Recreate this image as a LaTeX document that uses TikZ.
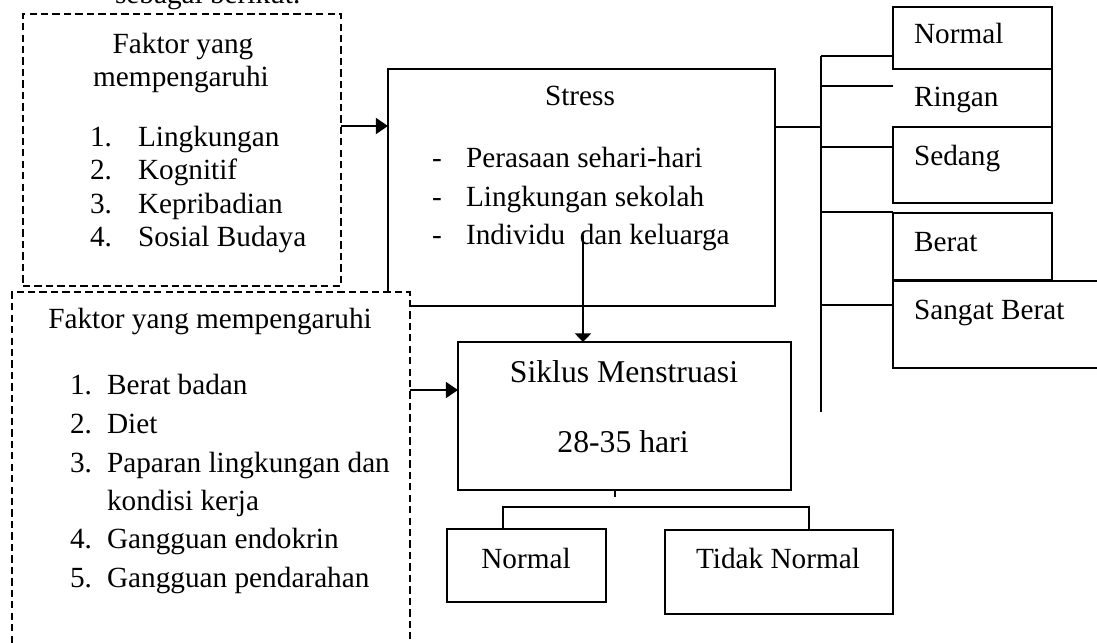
\documentclass[tikz,border=0pt]{standalone}
\usepackage{fontspec}
\setmainfont{Liberation Serif}
\usetikzlibrary{arrows.meta}
\tikzset{
  box/.style={draw, line width=0.75pt, fill=white, inner sep=0pt, outer sep=0pt},
  dbox/.style={draw, line width=0.6pt, dash pattern=on 3pt off 1.7pt, fill=white, inner sep=0pt, outer sep=0pt},
  hidbox/.style={inner sep=0pt, outer sep=0pt},
  txt/.style={inner sep=0pt, outer sep=0pt, font=\fontsize{12pt}{13.8pt}\selectfont},
  bigtxt/.style={inner sep=0pt, outer sep=0pt, font=\fontsize{13pt}{15pt}\selectfont},
  arr/.style={line width=1pt, -{Triangle[length=5pt,width=6.5pt]}},
  varr/.style={line width=1pt, -{Triangle[length=3.5pt,width=6.5pt]}},
  conn/.style={line width=0.75pt},
}
\begin{document}
\begin{tikzpicture}[x=0.41pt,y=-0.41pt]
\useasboundingbox (0,0) rectangle (1097,642);
\clip (0,0) rectangle (1097,642);

% cut-off introduction line
\node[txt, anchor=base west] (intro) at (115,3) {sebagai berikut.};

% boxes
\node[dbox, minimum width=318*0.41pt, minimum height=272*0.41pt] (fa) at (182,150) {};
\node[box, minimum width=387*0.41pt, minimum height=237*0.41pt] (stress) at (581.5,187.5) {};
\node[dbox, minimum width=398*0.41pt, minimum height=408*0.41pt] (fb) at (211,496) {};
\node[box, minimum width=333*0.41pt, minimum height=148*0.41pt] (siklus) at (624.5,416) {};
\node[box, minimum width=159*0.41pt, minimum height=73*0.41pt] (cn) at (526.5,565.5) {};
\node[box, minimum width=228*0.41pt, minimum height=84*0.41pt] (ctn) at (779,572) {};

\node[box, minimum width=159*0.41pt, minimum height=62*0.41pt] (rn) at (972.5,38) {};
\node[hidbox, minimum width=159*0.41pt, minimum height=58*0.41pt] (rr) at (972.5,98) {};
\draw[conn] (rr.north west) -- (rr.north east) -- (rr.south east) -- (rr.south west);
\node[box, minimum width=159*0.41pt, minimum height=76*0.41pt] (rs) at (972.5,165) {};
\node[box, minimum width=159*0.41pt, minimum height=67*0.41pt] (rb) at (972.5,246.5) {};
\node[box, minimum width=257*0.41pt, minimum height=87*0.41pt] (rsb) at (1021.5,324.5) {};

% texts of box A
\node[txt, anchor=base] (fa1) at (183,53) {Faktor yang};
\node[txt, anchor=base] (fa2) at (181,86) {mempengaruhi};
\node[txt, anchor=base west] (fan1) at (90,146) {1.};
\node[txt, anchor=base west] (fat1) at (138,146) {Lingkungan};
\node[txt, anchor=base west] (fan2) at (90,179.5) {2.};
\node[txt, anchor=base west] (fat2) at (138,179.5) {Kognitif};
\node[txt, anchor=base west] (fan3) at (90,213) {3.};
\node[txt, anchor=base west] (fat3) at (138,213) {Kepribadian};
\node[txt, anchor=base west] (fan4) at (90,246.5) {4.};
\node[txt, anchor=base west] (fat4) at (138,246.5) {Sosial Budaya};

% texts of stress
\node[txt, anchor=base] (st0) at (580,105) {Stress};
\node[txt, anchor=base west] (sd1) at (432,167) {-};
\node[txt, anchor=base west] (st1) at (466,167) {Perasaan sehari-hari};
\node[txt, anchor=base west] (sd2) at (432,206) {-};
\node[txt, anchor=base west] (st2) at (466,206) {Lingkungan sekolah};
\node[txt, anchor=base west] (sd3) at (432,244) {-};
\node[txt, anchor=base west] (st3) at (466,244) {Individu\ \ dan keluarga};

% texts of box B
\node[txt, anchor=base] (fb0) at (210,328) {Faktor yang mempengaruhi};
\node[txt, anchor=base west] (fbn1) at (70,394) {1.};
\node[txt, anchor=base west] (fbt1) at (107,394) {Berat badan};
\node[txt, anchor=base west] (fbn2) at (70,433) {2.};
\node[txt, anchor=base west] (fbt2) at (107,433) {Diet};
\node[txt, anchor=base west] (fbn3) at (70,472) {3.};
\node[txt, anchor=base west] (fbt3) at (107,472) {Paparan lingkungan dan};
\node[txt, anchor=base west] (fbt3b) at (107,510) {kondisi kerja};
\node[txt, anchor=base west] (fbn4) at (70,548) {4.};
\node[txt, anchor=base west] (fbt4) at (107,548) {Gangguan endokrin};
\node[txt, anchor=base west] (fbn5) at (70,587) {5.};
\node[txt, anchor=base west] (fbt5) at (107,587) {Gangguan pendarahan};

% texts of siklus and outcomes
\node[bigtxt, anchor=base] (sk1) at (624,382) {Siklus Menstruasi};
\node[bigtxt, anchor=base] (sk2) at (623,452) {28-35 hari};
\node[txt, anchor=base] (cnt) at (526,568) {Normal};
\node[txt, anchor=base] (ctnt) at (778,568) {Tidak Normal};

% texts of stress levels
\node[txt, anchor=base west] (rnt) at (914,43) {Normal};
\node[txt, anchor=base west] (rrt) at (914,106) {Ringan};
\node[txt, anchor=base west] (rst) at (914,165) {Sedang};
\node[txt, anchor=base west] (rbt) at (914,251) {Berat};
\node[txt, anchor=base west] (rsbt) at (914,319) {Sangat Berat};

% arrows
\coordinate (yA) at (0,126);
\draw[arr] (fa.east |- yA) -- (stress.west |- yA);
\coordinate (yB) at (0,390);
\draw[arr] (fb.east |- yB) -- (siklus.west |- yB);
\coordinate (sv) at (583,235);
\draw[varr] (sv) -- (sv |- siklus.north);

% siklus tree
\coordinate (tk) at (615,497);
\draw[conn] (tk |- siklus.south) -- (tk);
\coordinate (h1) at (503,507);
\coordinate (h2) at (809,507);
\draw[conn] (h1 |- cn.north) -- (h1) -- (h2) -- (h2 |- ctn.north);

% stress level bus
\coordinate (bs) at (821,127);
\coordinate (btop) at (821,56);
\coordinate (bbot) at (821,412);
\draw[conn] (stress.east |- bs) -- (bs);
\draw[conn] (btop) -- (bbot);
\coordinate (b1) at (821,56);
\coordinate (b2) at (821,86);
\coordinate (b3) at (821,147);
\coordinate (b4) at (821,212);
\coordinate (b5) at (821,305);
\draw[conn] (b1) -- (b1 -| rn.west);
\draw[conn] (b2) -- (b2 -| rr.west);
\draw[conn] (b3) -- (b3 -| rs.west);
\draw[conn] (b4) -- (b4 -| rb.west);
\draw[conn] (b5) -- (b5 -| rsb.west);
\end{tikzpicture}
\end{document}
